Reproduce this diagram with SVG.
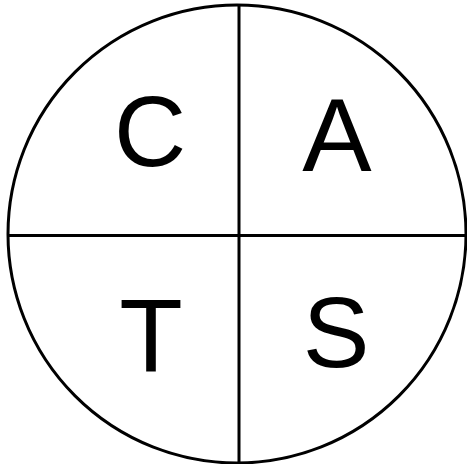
<svg xmlns="http://www.w3.org/2000/svg" width="467" height="464" viewBox="0 0 467 464">
<style>
.ln{stroke:#000;stroke-width:3;fill:none}
.t{font-family:"Liberation Sans",Arial,sans-serif;fill:#000;text-anchor:middle}
</style>
<rect width="467" height="464" fill="#fff"/>
<g id="circle"><circle class="ln" cx="237" cy="234" r="229"/></g>
<g id="connectors">
<line class="ln" x1="239" y1="5" x2="239" y2="463"/>
<line class="ln" x1="8" y1="235.5" x2="466" y2="235.5"/>
</g>
<g id="C"><text class="t" x="150" y="166" font-size="100">C</text></g>
<g id="A"><text class="t" x="337" y="171" font-size="104">A</text></g>
<g id="T"><text class="t" x="151" y="372" font-size="104">T</text></g>
<g id="S"><text class="t" x="336" y="367" font-size="100">S</text></g>
</svg>
